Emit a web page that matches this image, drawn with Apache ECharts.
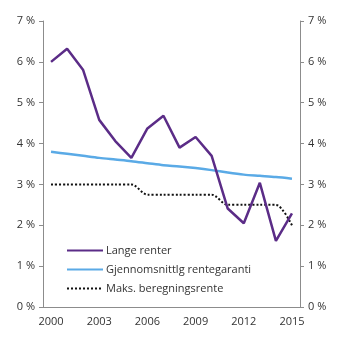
<!DOCTYPE html>
<html>
<head>
<meta charset="utf-8">
<script src="https://cdn.jsdelivr.net/npm/echarts@6/dist/echarts.min.js"></script>
<style>html,body{margin:0;padding:0;background:#fff}#c{width:345px;height:345px}</style>
</head>
<body>
<div id="c"></div>
<script>
const years = ['2000','2001','2002','2003','2004','2005','2006','2007','2008','2009','2010','2011','2012','2013','2014','2015'];
const langeRenter = [6.0,6.32,5.8,4.58,4.06,3.65,4.37,4.68,3.9,4.16,3.7,2.41,2.05,3.04,1.62,2.29];
const rentegaranti = [3.80,3.75,3.70,3.65,3.61,3.57,3.52,3.47,3.44,3.40,3.35,3.29,3.24,3.21,3.18,3.14];
const maksBeregning = [3.0,3.0,3.0,3.0,3.0,3.0,2.75,2.75,2.75,2.75,2.75,2.5,2.5,2.5,2.5,2.0];
const seriesNames = ['Lange renter','Gjennomsnittlg rentegaranti','Maks. beregningsrente'];

const font = 'Open Sans';
const axisColor = '#8c8c8c';
const yAxisBase = {
  type:'value', min:0, max:7, interval:1,
  axisLine:{show:true,lineStyle:{color:axisColor,width:1}},
  axisTick:{show:true,length:4,lineStyle:{color:axisColor}},
  splitLine:{show:false},
  axisLabel:{formatter:v=>v+' %',color:'#333',fontFamily:font,fontSize:11,margin:8}
};
const chart = echarts.init(document.getElementById('c'));
chart.setOption({
  animation:false,
  textStyle:{fontFamily:font},
  grid:{left:43,right:45,top:21,bottom:38},
  xAxis:{type:'category',data:years,boundaryGap:true,
    axisLine:{lineStyle:{color:axisColor}},
    axisTick:{show:false},
    axisLabel:{interval:2,color:'#333',fontFamily:font,fontSize:11,margin:9}},
  yAxis:[Object.assign({position:'left'},yAxisBase),Object.assign({position:'right'},yAxisBase)],
  legend:{orient:'vertical',left:66,top:245,padding:0,itemWidth:36,itemHeight:8,itemGap:8,
    itemStyle:{opacity:0},
    textStyle:{color:'#333',fontFamily:font,fontSize:11,padding:[0,0,0,-2]},
    data:seriesNames},
  series:[
    {name:seriesNames[0],type:'line',data:langeRenter,symbol:'none',lineStyle:{color:'#5b2c87',width:2.5},itemStyle:{color:'#5b2c87'},z:3},
    {name:seriesNames[1],type:'line',data:rentegaranti,symbol:'none',smooth:0.3,lineStyle:{color:'#5aaae6',width:2.5},itemStyle:{color:'#5aaae6'},z:2},
    {name:seriesNames[2],type:'line',data:maksBeregning,symbol:'none',smooth:0.3,lineStyle:{color:'#111',width:2,type:[2,2]},itemStyle:{color:'#111'},z:1}
  ]
});
</script>
</body>
</html>
